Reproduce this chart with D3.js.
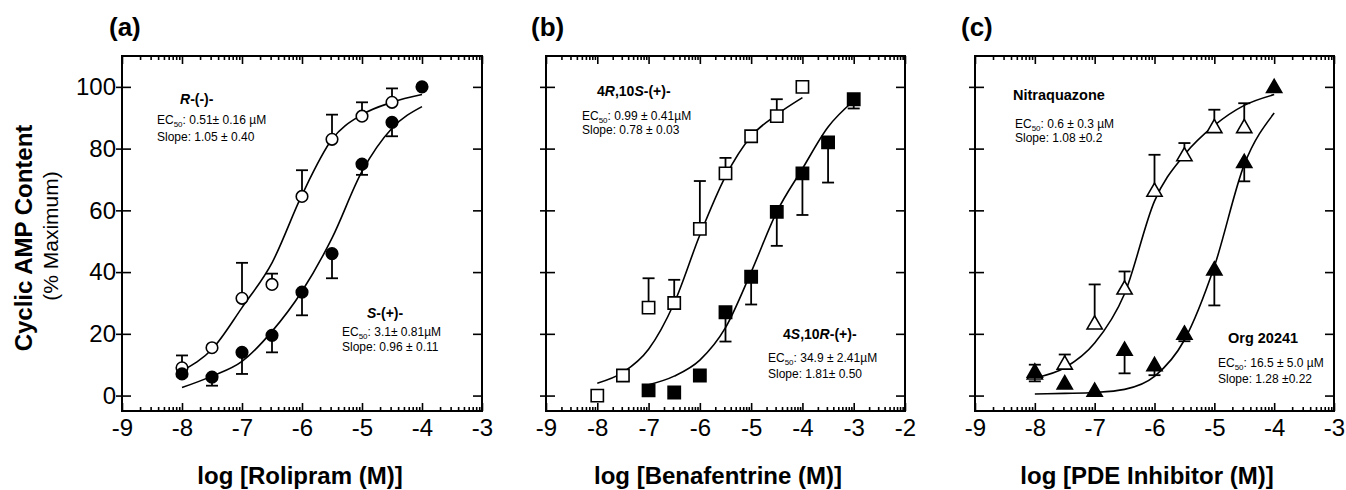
<!DOCTYPE html>
<html>
<head>
<meta charset="utf-8">
<script src="https://cdn.jsdelivr.net/npm/d3@7"></script>
<style>
    body { margin: 0; background: #fff; }
    svg { font-family: "Liberation Sans", Arial, sans-serif; }
    .axis path { display: none; }
    .axis line { stroke: #000; stroke-width: 1.6; }
    .axis text { font-size: 24px; fill: #000; font-family: "Liberation Sans", Arial, sans-serif; }
</style>
</head>
<body>
<script>
// ---- data ----
// (a) Rolipram
var rolRDose = [-8, -7.5, -7, -6.5, -6, -5.5, -5, -4.5];
var rolR = [9, 15.5, 31.5, 36, 64.5, 83, 90.5, 95];
var rolRErr = [13, null, 43, 39.5, 73, 91, 95, 99.5];
var rolSDose = [-8, -7.5, -7, -6.5, -6, -5.5, -5, -4.5, -4];
var rolS = [7, 6, 14, 19.5, 33.5, 46, 75, 88.5, 100];
var rolSErr = [null, 3.2, 7, 14, 26, 38, 71.5, 84, null];
var fitDoseA = [-8, -7.5, -7, -6.5, -6, -5.5, -5, -4.5, -4];
var rolRFit = [8, 15, 28.5, 43, 65, 83, 91, 95, 97.5];
var rolSFit = [2.6, 6.3, 11.1, 20.8, 33.8, 51, 72.6, 86.6, 93.6];

// (b) Benafentrine
var benOpenDose = [-8, -7.5, -7, -6.5, -6, -5.5, -5, -4.5, -4];
var benOpen = [0, 6.5, 28.5, 30, 54, 72, 84, 90.5, 100];
var benOpenErr = [null, null, 38, 37.5, 69.5, 77, null, 96, null];
var benFillDose = [-7, -6.5, -6, -5.5, -5, -4.5, -4, -3.5, -3];
var benFill = [1.7, 1, 6.5, 27, 38.5, 59.5, 72, 82, 96];
var benFillErr = [null, null, null, 17.5, 29.5, 48.5, 58.5, 69, 93];
var benOpenFitDose = [-8, -7.5, -7, -6.5, -6, -5.5, -5, -4.5, -4];
var benOpenFit = [4, 7.5, 15, 30, 52, 71, 84, 91, 96.5];
var benFillFitDose = [-7, -6.5, -6, -5.5, -5, -4.5, -4, -3.5, -3];
var benFillFit = [3.5, 6.3, 11.5, 22, 40, 59.5, 73.5, 87, 95.5];

// (c) PDE inhibitors
var nitDose = [-8, -7.5, -7, -6.5, -6, -5.5, -5, -4.5];
var nit = [6.8, 10, 23, 34.3, 66, 77.5, 86.6, 86.6];
var nitErr = [10, 13.3, 36, 40.2, 78, 81.8, 92.6, 94.7];
var orgDose = [-8, -7.5, -7, -6.5, -6, -5.5, -5, -4.5, -4];
var org = [7.4, 3.6, 1.2, 14.5, 9.5, 19.7, 40.5, 75.3, 99.6];
var orgErr = [4.6, null, null, 7.2, 6.6, 17.6, 29.2, 69.4, null];
var fitDoseC = [-8, -7.5, -7, -6.5, -6, -5.5, -5, -4.5, -4];
var nitFit = [5.7, 9, 17, 33, 63, 78, 87.5, 94, 97.5];
var orgFit = [0.5, 0.7, 1, 2, 6.2, 18, 41.8, 74.8, 91.5];

var yTicks = [0, 20, 40, 60, 80, 100];

// ---- layout ----
var W = 1346, H = 490;
var yTop = 56, yBot = 411;

var svg = d3.select("body").append("svg")
    .attr("width", W)
    .attr("height", H);

function pts(xs, ys, es) {
    return xs.map(function(d, i){
        return { x: d, y: ys[i], e: es ? es[i] : null };
    });
}

var panels = [
    {
        tag: "(a)", tagX: 109, x0: 122, x1: 482, dom: [-9, -3], yLabels: true,
        title: "log [Rolipram (M)]", titleX: 300,
        series: [
            { shape: "circle", open: true, data: pts(rolRDose, rolR, rolRErr), fit: pts(fitDoseA, rolRFit) },
            { shape: "circle", open: false, data: pts(rolSDose, rolS, rolSErr), fit: pts(fitDoseA, rolSFit) }
        ],
        notes: [
            { x: 180, y: 104, size: 14, bold: true, parts: [["R", "i"], ["-(-)-", ""]] },
            { x: 157, y: 124, ec: ["EC", ": 0.51\u00b1 0.16 \u00b5M"] },
            { x: 157, y: 141, text: "Slope: 1.05 \u00b1 0.40" },
            { x: 367, y: 318, size: 14, bold: true, parts: [["S", "i"], ["-(+)-", ""]] },
            { x: 342, y: 336, ec: ["EC", ": 3.1\u00b1 0.81\u00b5M"] },
            { x: 342, y: 351, text: "Slope: 0.96 \u00b1 0.11" }
        ]
    },
    {
        tag: "(b)", tagX: 531, x0: 546, x1: 905, dom: [-9, -2], yLabels: false,
        title: "log [Benafentrine (M)]", titleX: 718,
        series: [
            { shape: "square", open: true, data: pts(benOpenDose, benOpen, benOpenErr), fit: pts(benOpenFitDose, benOpenFit) },
            { shape: "square", open: false, data: pts(benFillDose, benFill, benFillErr), fit: pts(benFillFitDose, benFillFit) }
        ],
        notes: [
            { x: 597, y: 96, size: 14, bold: true, parts: [["4", ""], ["R", "i"], [",10", ""], ["S", "i"], ["-(+)-", ""]] },
            { x: 582, y: 120, ec: ["EC", ": 0.99 \u00b1 0.41\u00b5M"] },
            { x: 582, y: 134, text: "Slope: 0.78 \u00b1 0.03" },
            { x: 783, y: 339, size: 14, bold: true, parts: [["4", ""], ["S", "i"], [",10", ""], ["R", "i"], ["-(+)-", ""]] },
            { x: 768, y: 362, ec: ["EC", ": 34.9 \u00b1 2.41\u00b5M"] },
            { x: 768, y: 378, text: "Slope: 1.81\u00b1 0.50" }
        ]
    },
    {
        tag: "(c)", tagX: 961, x0: 975, x1: 1334, dom: [-9, -3], yLabels: false,
        title: "log [PDE Inhibitor (M)]", titleX: 1147,
        series: [
            { shape: "triangle", open: true, data: pts(nitDose, nit, nitErr), fit: pts(fitDoseC, nitFit) },
            { shape: "triangle", open: false, data: pts(orgDose, org, orgErr), fit: pts(fitDoseC, orgFit) }
        ],
        notes: [
            { x: 1013, y: 100, size: 14.5, bold: true, parts: [["Nitraquazone", ""]] },
            { x: 1015, y: 128, ec: ["EC", ": 0.6 \u00b1 0.3 \u00b5M"] },
            { x: 1015, y: 142, text: "Slope: 1.08 \u00b10.2" },
            { x: 1228, y: 343, size: 14.5, bold: true, parts: [["Org 20241", ""]] },
            { x: 1218, y: 367, ec: ["EC", ": 16.5 \u00b1 5.0 \u00b5M"] },
            { x: 1218, y: 383, text: "Slope: 1.28 \u00b10.22" }
        ]
    }
];

var y = d3.scaleLinear().domain([-5, 110]).range([yBot, yTop]);

var symbolType = { circle: d3.symbolCircle, square: d3.symbolSquare, triangle: d3.symbolTriangle };
var symbolSize = { circle: 105, square: 150, triangle: 100 };

panels.forEach(function(p){
    var x = d3.scaleLinear().domain(p.dom).range([p.x0, p.x1]);
    var g = svg.append("g");

    // integer decades and log minor ticks
    var majors = d3.range(p.dom[0], p.dom[1] + 1);
    var minors = [];
    for (var dec = p.dom[0]; dec < p.dom[1]; dec++) {
        for (var k = 2; k <= 9; k++) minors.push(dec + Math.log10(k));
    }

    // bottom axis: labels + inward ticks
    g.append("g").attr("class", "axis")
        .attr("transform", "translate(0," + yBot + ")")
        .call(d3.axisBottom(x).tickValues(majors).tickSize(-8).tickPadding(8)
            .tickFormat(function(d){ return String(d); }));
    g.append("g").attr("class", "axis")
        .attr("transform", "translate(0," + yBot + ")")
        .call(d3.axisBottom(x).tickValues(minors).tickSize(-4).tickFormat(""));

    // top axis
    g.append("g").attr("class", "axis")
        .attr("transform", "translate(0," + yTop + ")")
        .call(d3.axisTop(x).tickValues(majors).tickSize(-8).tickFormat(""));
    g.append("g").attr("class", "axis")
        .attr("transform", "translate(0," + yTop + ")")
        .call(d3.axisTop(x).tickValues(minors).tickSize(-4).tickFormat(""));

    // left axis: ticks cross the line
    g.append("g").attr("class", "axis")
        .attr("transform", "translate(" + p.x0 + ",0)")
        .call(d3.axisLeft(y).tickValues(yTicks).tickSize(-9).tickFormat(""));
    g.append("g").attr("class", "axis")
        .attr("transform", "translate(" + p.x0 + ",0)")
        .call(d3.axisLeft(y).tickValues(yTicks).tickSize(6).tickPadding(0)
            .tickFormat(p.yLabels ? d3.format("d") : ""));

    // right axis
    g.append("g").attr("class", "axis")
        .attr("transform", "translate(" + p.x1 + ",0)")
        .call(d3.axisRight(y).tickValues(yTicks).tickSize(-9).tickFormat(""));

    // frame
    g.append("rect")
        .attr("x", p.x0).attr("y", yTop)
        .attr("width", p.x1 - p.x0).attr("height", yBot - yTop)
        .attr("fill", "none").attr("stroke", "#000").attr("stroke-width", 2);

    var line = d3.line()
        .x(function(d){ return x(d.x); })
        .y(function(d){ return y(d.y); })
        .curve(d3.curveMonotoneX);

    p.series.forEach(function(s){
        // fitted curve
        g.append("path")
            .datum(s.fit)
            .attr("d", line)
            .attr("fill", "none")
            .attr("stroke", "#000")
            .attr("stroke-width", 1.6);

        // error bars (one-sided)
        var eb = g.selectAll(null)
            .data(s.data.filter(function(d){ return d.e != null; }))
            .enter().append("g");
        eb.append("line")
            .attr("x1", function(d){ return x(d.x); })
            .attr("x2", function(d){ return x(d.x); })
            .attr("y1", function(d){ return y(d.y); })
            .attr("y2", function(d){ return y(d.e); })
            .attr("stroke", "#000").attr("stroke-width", 1.8);
        eb.append("line")
            .attr("x1", function(d){ return x(d.x) - 6; })
            .attr("x2", function(d){ return x(d.x) + 6; })
            .attr("y1", function(d){ return y(d.e); })
            .attr("y2", function(d){ return y(d.e); })
            .attr("stroke", "#000").attr("stroke-width", 1.8);

        // symbols
        g.selectAll(null)
            .data(s.data)
            .enter().append("path")
            .attr("d", d3.symbol().type(symbolType[s.shape]).size(symbolSize[s.shape]))
            .attr("transform", function(d){ return "translate(" + x(d.x) + "," + y(d.y) + ")"; })
            .attr("fill", s.open ? "#fff" : "#000")
            .attr("stroke", "#000")
            .attr("stroke-width", 1.6);
    });

    // annotations
    p.notes.forEach(function(n){
        var t = g.append("text")
            .attr("x", n.x).attr("y", n.y)
            .attr("fill", "#000");
        if (n.parts) {
            t.attr("font-size", n.size).attr("font-weight", "bold");
            n.parts.forEach(function(pt){
                t.append("tspan").text(pt[0])
                    .attr("font-style", pt[1] == "i" ? "italic" : "normal");
            });
        } else if (n.ec) {
            t.attr("font-size", 12);
            t.append("tspan").text(n.ec[0]);
            t.append("tspan").text("50").attr("font-size", 8).attr("dy", 3);
            t.append("tspan").text(n.ec[1]).attr("dy", -3);
        } else {
            t.attr("font-size", 12).text(n.text);
        }
    });

    // panel tag
    svg.append("text")
        .attr("x", p.tagX).attr("y", 36)
        .attr("font-size", 26).attr("font-weight", "bold")
        .text(p.tag);

    // x title
    svg.append("text")
        .attr("x", p.titleX).attr("y", 484)
        .attr("text-anchor", "middle")
        .attr("font-size", 24).attr("font-weight", "bold")
        .text(p.title);
});

// y title
svg.append("text")
    .attr("transform", "translate(32,238) rotate(-90)")
    .attr("text-anchor", "middle")
    .attr("font-size", 24).attr("font-weight", "bold")
    .text("Cyclic AMP Content");
svg.append("text")
    .attr("transform", "translate(58,236) rotate(-90)")
    .attr("text-anchor", "middle")
    .attr("font-size", 21)
    .text("(% Maximum)");
</script>
</body>
</html>
